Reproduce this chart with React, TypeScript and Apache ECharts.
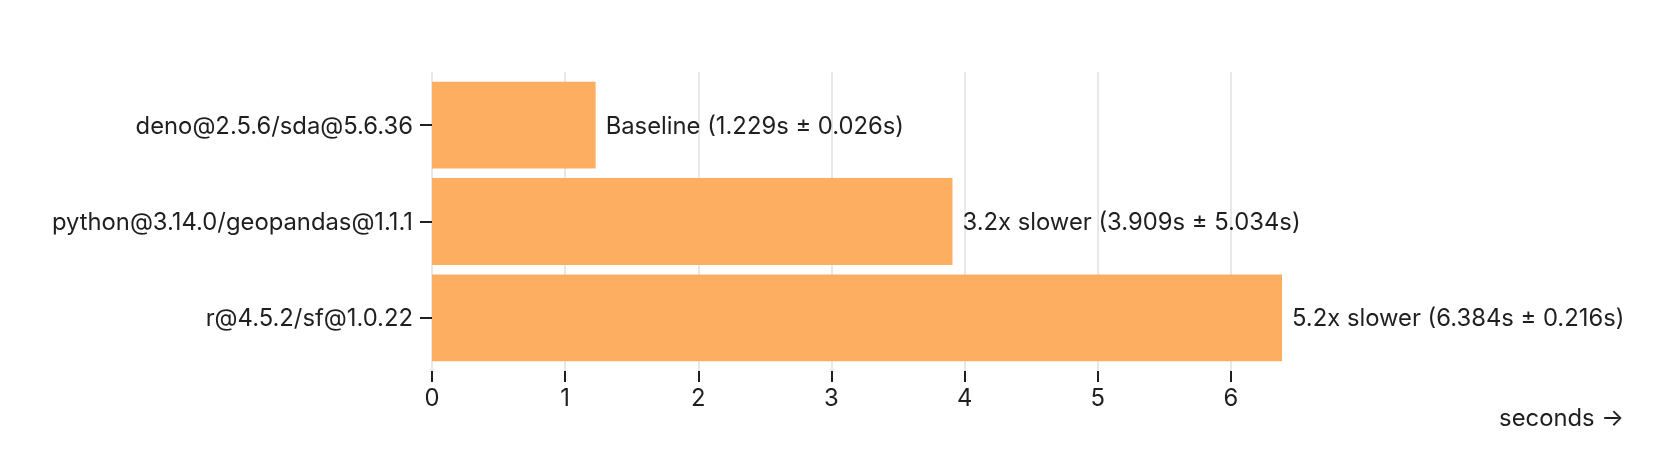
import React, { useEffect, useRef } from "react";
import * as echarts from "echarts";

const categories = [
  "deno@2.5.6/sda@5.6.36",
  "python@3.14.0/geopandas@1.1.1",
  "r@4.5.2/sf@1.0.22",
];
const meanSeconds = [1.229, 3.909, 6.384];
const stdSeconds = [0.026, 5.034, 0.216];
const xTickValues = [0, 1, 2, 3, 4, 5, 6];
const axisTitle = "seconds →";

const FONT = "Inter, 'Noto Sans', sans-serif";
const TEXT = "#1f1f1f";
const FS = 23.8;

export default function App() {
  const ref = useRef<HTMLDivElement>(null);
  useEffect(() => {
    if (!ref.current) return;
    const chart = echarts.init(ref.current, null, { renderer: "svg" });

    const plotLeft = 432;
    const plotRight = 1282;
    const frameTop = 72;
    const frameBottom = 371;
    const W = 1664;
    const n = categories.length;
    const step = (frameBottom - frameTop) / (n - 0.1 + 0.2);
    const bandTop = frameTop + 0.05 * step;
    const maxVal = Math.max(...meanSeconds);
    const unit = (plotRight - plotLeft) / maxVal;
    const tickMax = xTickValues[xTickValues.length - 1];
    const baseline = meanSeconds[0];

    const labelText = (i: number) => {
      const m = meanSeconds[i].toFixed(3);
      const s = stdSeconds[i].toFixed(3);
      if (i === 0) return `Baseline (${m}s ± ${s}s)`;
      const r = (meanSeconds[i] / baseline).toFixed(1);
      return `${r}x slower (${m}s ± ${s}s)`;
    };

    chart.setOption({
      animation: false,
      textStyle: { fontFamily: FONT },
      grid: [
        {
          left: plotLeft,
          top: frameTop,
          width: tickMax * unit,
          height: frameBottom - frameTop,
          containLabel: false,
        },
        {
          left: plotLeft,
          top: bandTop,
          width: plotRight - plotLeft,
          height: step * n,
          containLabel: false,
        },
      ],
      xAxis: [
        {
          type: "value",
          gridIndex: 0,
          min: xTickValues[0],
          max: tickMax,
          interval: 1,
          axisLine: { show: false },
          axisTick: {
            show: true,
            length: 11,
            lineStyle: { color: TEXT, width: 2 },
          },
          axisLabel: {
            show: true,
            margin: 14,
            color: TEXT,
            fontSize: FS,
            fontFamily: FONT,
          },
          splitLine: { show: true, lineStyle: { color: "#e8e8e8", width: 2 } },
        },
        {
          type: "value",
          gridIndex: 1,
          min: 0,
          max: maxVal,
          show: false,
          splitLine: { show: false },
        },
      ],
      yAxis: [
        { type: "value", gridIndex: 0, show: false, splitLine: { show: false } },
        {
          type: "category",
          gridIndex: 1,
          data: categories,
          inverse: true,
          axisLine: { show: false },
          axisTick: {
            show: true,
            alignWithLabel: true,
            length: 12,
            lineStyle: { color: TEXT, width: 2 },
          },
          axisLabel: {
            margin: 19,
            color: TEXT,
            fontSize: FS,
            fontFamily: FONT,
          },
          splitLine: { show: false },
        },
      ],
      series: [
        {
          type: "bar",
          xAxisIndex: 1,
          yAxisIndex: 1,
          data: meanSeconds,
          barCategoryGap: "10%",
          itemStyle: { color: "#fdae61" },
          label: {
            show: true,
            position: "right",
            distance: 10,
            color: TEXT,
            fontSize: FS,
            fontFamily: FONT,
            formatter: (p: any) => labelText(p.dataIndex),
          },
        },
      ],
      graphic: [
        {
          type: "text",
          right: W - 1624,
          top: 418 - FS / 2 - 1,
          style: {
            text: axisTitle,
            fill: TEXT,
            fontSize: FS,
            fontFamily: FONT,
          },
        },
      ],
    });
    return () => chart.dispose();
  }, []);
  return (
    <div
      ref={ref}
      style={{ position: "fixed", left: 0, top: 0, width: 1664, height: 464 }}
    />
  );
}
